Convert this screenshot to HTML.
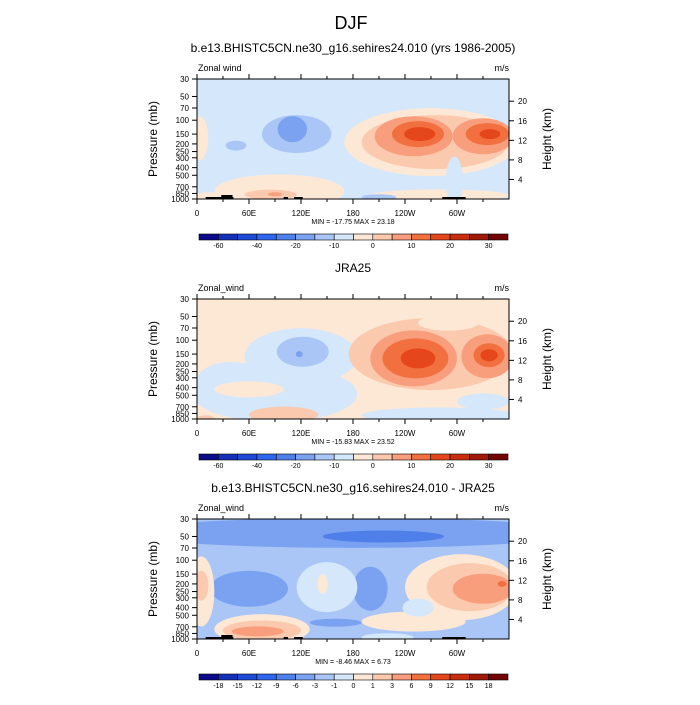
<!DOCTYPE html>
<html><head><meta charset="utf-8"><style>
body{margin:0;background:#fff;font-family:"Liberation Sans",sans-serif}
svg text{font-family:"Liberation Sans",sans-serif}
</style></head><body>
<svg id="chart" width="700" height="700" viewBox="0 0 700 700" xmlns="http://www.w3.org/2000/svg">
<text x="351" y="29" font-size="18" text-anchor="middle">DJF</text>
</svg>
<script>
const palette=['#0a0a8a','#1530b8','#1f4ad8','#2f66ee','#4f80ea','#7aa2f0','#a9c6f6','#d4e7fb','#fde8d6','#fbc9ad','#f89e7c','#f2703f','#e6461c','#c82d0e','#a11a08','#740404'];
const lonTicks=[0,60,120,180,240,300];
const lonLabels=['0','60E','120E','180','120W','60W'];
const pTicks=[30,50,70,100,150,200,250,300,400,500,700,850,1000];
const hTicks=[20,16,12,8,4];
const cbLabelsA=['-60','-40','-20','-10','0','10','20','30'];
const cbLabelsB=['-18','-15','-12','-9','-6','-3','-1','0','1','3','6','9','12','15','18'];
// blobs: [lon, pressure, halfWidthDeg, halfHeightPx, level]
const model=[[270,190,100,34,8],[3,170,10,22,8],[95,800,75,17,8],[15,950,20,5,8],[280,900,80,6,8],
[275,190,85,27,9],[297,600,10,25,7],[85,880,30,5,9],[90,870,8,2,10],
[250,160,45,20,10],[330,160,35,18,10],[255,150,30,13,11],[335,150,25,11,11],[257,150,18,7,12],[338,150,12,5,12],
[115,150,40,19,6],[110,130,17,13,5],[45,210,12,5,6],[210,950,20,3,6]];
const jra=[[90,480,95,28,7],[120,160,65,28,7],[40,320,40,18,7],[280,900,90,8,7],[330,600,30,8,7],
[60,420,40,8,8],[100,880,40,8,9],[10,980,10,3,9],
[270,150,95,36,9],[290,60,35,8,8],[250,170,50,28,10],[335,160,30,22,10],[252,170,38,20,11],[337,155,18,12,11],[255,170,20,10,12],[337,155,10,6,12],
[122,140,30,15,6],[118,150,4,3,5]];
const diff=[[180,45,260,15,5],[215,50,70,6,4],[60,230,45,18,5],[200,230,20,22,5],[160,620,30,4,5],[100,720,25,4,5],
[150,220,35,25,7],[145,200,6,10,8],[5,250,15,35,8],[5,210,8,15,9],
[75,750,55,15,8],[75,780,45,10,9],[70,800,30,5,10],
[305,220,65,33,8],[250,600,60,10,8],[315,220,50,24,9],[330,230,35,15,10],[352,200,5,3,11],[255,400,18,9,7],[220,950,30,4,7]];
const topo=[[10,42,2],[28,41,4],[100,105,2],[112,122,2],[283,310,2]];
const panels=[
 {top:79,cb:234,title:'b.e13.BHISTC5CN.ne30_g16.sehires24.010 (yrs 1986-2005)',ty:68,bg:7,blobs:model,lbl:'Zonal wind',mm:'MIN = -17.75  MAX = 23.18',cbl:cbLabelsA,step:2,topo:true},
 {top:299,cb:454,title:'JRA25',ty:288,bg:8,blobs:jra,lbl:'Zonal_wind',mm:'MIN = -15.83  MAX = 23.52',cbl:cbLabelsA,step:2,topo:false},
 {top:519,cb:674,title:'b.e13.BHISTC5CN.ne30_g16.sehires24.010 - JRA25',ty:508,bg:6,blobs:diff,lbl:'Zonal_wind',mm:'MIN =  -8.46  MAX =   6.73',cbl:cbLabelsB,step:1,topo:true}];
const svg=document.getElementById('chart');const NS='http://www.w3.org/2000/svg';
const X0=197,W=312,H=120;
const xs=l=>X0+l*W/360;
function mk(t,a,p){const e=document.createElementNS(NS,t);for(const k in a)e.setAttribute(k,a[k]);(p||svg).appendChild(e);return e;}
panels.forEach((P,i)=>{
 const ys=p=>P.top+H*Math.log(p/30)/Math.log(1000/30);
 const g=mk('g',{});
 
 
 const tt=mk('text',{x:353,y:P.ty-16,'font-size':12,'text-anchor':'middle'},g);tt.textContent=P.title;
 
 
 const cp=mk('clipPath',{id:'c'+i},g);mk('rect',{x:X0,y:P.top,width:W,height:H},cp);
 const fg=mk('g',{'clip-path':'url(#c'+i+')'},g);
 mk('rect',{x:X0,y:P.top,width:W,height:H,fill:palette[P.bg]},fg);
 P.blobs.forEach(b=>{const e=mk('ellipse',{cx:xs(b[0]),cy:ys(b[1]),rx:b[2]*W/360,ry:b[3],fill:palette[b[4]]},fg);
  
  });
 if(P.topo)topo.forEach(t=>{const r=mk('rect',{x:xs(t[0]),y:P.top+H-t[2],width:xs(t[1])-xs(t[0]),height:t[2],fill:'#000'},fg);
  
  });
 mk('rect',{x:X0,y:P.top,width:W,height:H,fill:'none',stroke:'#000','stroke-width':1},g);
 const l1=mk('text',{x:198,y:P.ty+3,'font-size':9},g);l1.textContent=P.lbl;
 
 
 const l2=mk('text',{x:509,y:P.ty+3,'font-size':9,'text-anchor':'end'},g);l2.textContent='m/s';
 
 
 lonTicks.forEach((l,k)=>{const x=xs(l);mk('line',{x1:x,x2:x,y1:P.top+H,y2:P.top+H+5,stroke:'#000'},g);mk('line',{x1:x,x2:x,y1:P.top,y2:P.top-5,stroke:'#000'},g);
  const t=mk('text',{x:x,y:P.top+H+17,'font-size':8,'text-anchor':'middle'},g);t.textContent=lonLabels[k];
  
  });
 for(let l=30;l<360;l+=60){const x=xs(l);mk('line',{x1:x,x2:x,y1:P.top+H,y2:P.top+H+3,stroke:'#000'},g);mk('line',{x1:x,x2:x,y1:P.top,y2:P.top-3,stroke:'#000'},g);}
 pTicks.forEach(p=>{const y=ys(p);mk('line',{x1:X0-5,x2:X0,y1:y,y2:y,stroke:'#000'},g);
  const t=mk('text',{x:X0-8,y:y+3,'font-size':8,'text-anchor':'end'},g);t.textContent=p;
  
  });
 hTicks.forEach(h=>{const y=ys(1000*Math.exp(-h/7));mk('line',{x1:X0+W,x2:X0+W+5,y1:y,y2:y,stroke:'#000'},g);
  const t=mk('text',{x:X0+W+9,y:y+3,'font-size':8},g);t.textContent=h;
  
  });
 const ya=mk('text',{x:0,y:0,'font-size':12,'text-anchor':'middle',transform:`translate(157,${P.top+60}) rotate(-90)`},g);ya.textContent='Pressure (mb)';
 
 
 const yb=mk('text',{x:0,y:0,'font-size':12,'text-anchor':'middle',transform:`translate(551,${P.top+60}) rotate(-90)`},g);yb.textContent='Height (km)';
 
 
 const mm=mk('text',{x:353,y:P.top+H+25,'font-size':7,'text-anchor':'middle'},g);mm.textContent=P.mm;
 
 
 const bw=309/16;
 palette.forEach((c,k)=>{const r=mk('rect',{x:199+k*bw,y:P.cb,width:bw,height:6,fill:c,stroke:'#000','stroke-width':0.6},g);
  
  });
 P.cbl.forEach((s,k)=>{const b=P.step==2?1+2*k:1+k;const t=mk('text',{x:199+b*bw,y:P.cb+14,'font-size':7,'text-anchor':'middle'},g);t.textContent=s;
  
  });
});
</script>
</body></html>
